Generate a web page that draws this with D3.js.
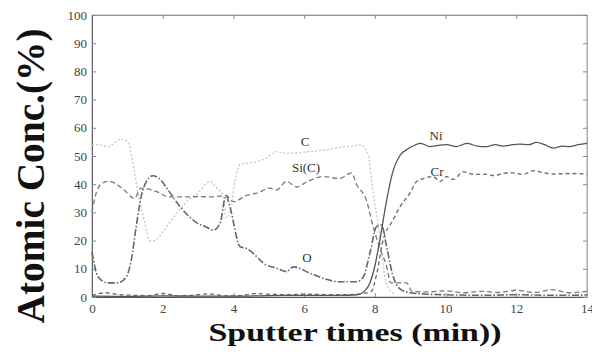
<!DOCTYPE html>
<html>
<head>
<meta charset="utf-8">
<script src="https://cdn.jsdelivr.net/npm/d3@7"></script>
<style>
  body { margin: 0; background: #fff; }
  svg { display: block; }
</style>
</head>
<body>
<svg id="chart" width="592" height="357"></svg>
<script>
// sputter time (min) and atomic concentration (%)
const cTime = [0, 0.17, 0.45, 0.82, 1.02, 1.15, 1.3, 1.5, 1.63, 1.77, 2.0, 2.23, 2.7, 3.0, 3.34, 3.53, 3.7, 3.8, 3.9, 4.09, 4.19, 4.4, 4.66, 4.9, 5.22, 5.5, 5.7, 6.1, 6.5, 6.8, 7.1, 7.4, 7.58, 7.8, 7.95, 8.1, 8.2, 8.3, 8.45, 8.6];
const cVal  = [54, 54, 53.3, 56, 55, 48, 37, 26, 20, 20, 23, 27, 34, 37, 41, 38.6, 36, 28, 30, 44, 47, 47.5, 48, 49, 51.5, 51, 51, 51.5, 52, 52.5, 53.3, 53.5, 54, 51, 37, 25, 15, 6, 2, 1];

const siTime = [0, 0.1, 0.25, 0.45, 0.64, 0.9, 1.2, 1.38, 1.68, 1.9, 2.15, 2.7, 3.05, 3.4, 3.79, 4.0, 4.37, 4.7, 5.03, 5.22, 5.5, 5.79, 6.1, 6.54, 7.0, 7.34, 7.48, 7.77, 7.95, 8.15, 8.33, 8.45, 8.9, 9.05, 9.5, 10, 10.5, 11, 11.5, 12, 12.5, 13, 13.5, 14];
const siVal  = [30, 36, 40, 41, 40.4, 38, 35, 38.6, 38, 37, 35.5, 35.5, 35.6, 35.5, 36, 33.8, 36, 37, 38.6, 38, 41, 39, 41, 42.7, 42, 44, 40, 34, 25, 17, 11, 5, 5, 2, 1.8, 2.2, 1.5, 2, 1.6, 2.4, 1.6, 2.6, 1.5, 2];

const oTime = [0, 0.17, 0.45, 0.73, 0.97, 1.11, 1.25, 1.39, 1.54, 1.72, 1.9, 2.15, 2.43, 2.71, 3.0, 3.2, 3.43, 3.62, 3.79, 3.9, 4.19, 4.37, 4.66, 4.85, 5.22, 5.5, 5.7, 6.17, 6.54, 7.0, 7.48, 7.67, 7.86, 8.05, 8.19, 8.33, 8.5, 8.7, 9.0, 9.5, 10, 11, 12, 13, 14];
const oVal  = [16, 7.2, 5, 5, 7.2, 13, 25, 35.6, 41, 43, 42, 38, 33, 29, 26, 25, 23.7, 26, 36, 32, 17.8, 17.2, 14.3, 12, 10.2, 9, 10.7, 8.4, 6.6, 5.4, 5.4, 7, 15.6, 25, 25.5, 18, 8, 3, 1.5, 1, 0.8, 0.6, 0.8, 0.6, 0.7];

const niTime = [0, 1, 2, 3, 4, 5, 6, 7, 7.5, 7.7, 7.86, 8.0, 8.14, 8.3, 8.5, 8.7, 9.0, 9.3, 9.56, 9.8, 10.03, 10.3, 10.6, 10.9, 11.16, 11.4, 11.63, 11.9, 12.1, 12.35, 12.57, 12.8, 13.05, 13.3, 13.5, 13.75, 14];
const niVal  = [0.3, 0.2, 0.4, 0.3, 0.3, 0.5, 0.6, 0.6, 0.8, 2, 5, 11, 20, 32, 44, 50, 53, 54.5, 53.3, 53.8, 54, 53.3, 54.5, 53.5, 53.3, 54, 53.5, 54, 54.2, 54, 54.8, 54, 52.8, 53.5, 53.3, 54, 54.5];

const crTime = [0, 0.4, 0.8, 1.2, 1.6, 2.0, 2.4, 2.8, 3.3, 3.8, 4.2, 4.6, 5.0, 5.5, 6, 6.5, 7, 7.5, 7.9, 8.05, 8.23, 8.5, 8.71, 9.0, 9.18, 9.37, 9.65, 9.85, 10.03, 10.22, 10.5, 10.8, 11.16, 11.4, 11.63, 11.9, 12.2, 12.48, 12.8, 13.05, 13.5, 14];
const crVal  = [0.5, 1.5, 0.8, 0.6, 0.5, 1.3, 0.5, 0.6, 1.1, 0.4, 0.5, 1.2, 1.0, 0.8, 1.0, 0.9, 0.8, 1.0, 2, 8, 20, 27, 32, 37, 41, 42, 42.7, 41, 42.7, 41.7, 44.4, 43.5, 43.5, 43, 43.9, 44, 43.5, 44.8, 44, 43.6, 43.8, 43.6];

const xTicks = [0, 2, 4, 6, 8, 10, 12, 14];
const yTicks = [0, 10, 20, 30, 40, 50, 60, 70, 80, 90, 100];

const serif = '"Liberation Serif", "Times New Roman", Times, serif';

const series = [
  {name: 'C',     t: cTime,  v: cVal,  color: '#c4c4c4', dash: '2,2',       width: 1.3, label: [305, 146]},
  {name: 'Si(C)', t: siTime, v: siVal, color: '#7a7a7a', dash: '5,3',       width: 1.3, label: [306, 172]},
  {name: 'O',     t: oTime,  v: oVal,  color: '#666',    dash: '7,2,1.5,2', width: 1.6, label: [307, 262]},
  {name: 'Ni',    t: niTime, v: niVal, color: '#555',    dash: null,        width: 1.3, label: [436, 140]},
  {name: 'Cr',    t: crTime, v: crVal, color: '#666',    dash: '4,3',       width: 1.3, label: [437, 176]}
];

const svg = d3.select('#chart');
const margin = {top: 15, right: 5, bottom: 60, left: 92};
const width = 592, height = 357;

const x = d3.scaleLinear().domain([0, 14]).range([margin.left, width - margin.right]);
const y = d3.scaleLinear().domain([0, 100]).range([height - margin.bottom, margin.top]);

// frame
svg.append('rect')
  .attr('x', x(0)).attr('y', y(100))
  .attr('width', x(14) - x(0)).attr('height', y(0) - y(100))
  .attr('fill', 'none').attr('stroke', '#aaa').attr('stroke-width', 1);

// inward ticks on all four sides
const tickLen = 4;
svg.append('g')
  .attr('transform', `translate(0,${y(0)})`)
  .call(d3.axisBottom(x).tickValues(xTicks).tickSize(-tickLen).tickPadding(7))
  .call(g => g.select('.domain').attr('stroke', '#555'));
svg.append('g')
  .attr('transform', `translate(0,${y(100)})`)
  .call(d3.axisTop(x).tickValues(xTicks).tickSize(-tickLen).tickFormat(''))
  .call(g => g.select('.domain').attr('stroke', '#999'));
svg.append('g')
  .attr('transform', `translate(${x(0)},0)`)
  .call(d3.axisLeft(y).tickValues(yTicks).tickSize(-tickLen).tickPadding(5))
  .call(g => g.select('.domain').attr('stroke', '#666'));
svg.append('g')
  .attr('transform', `translate(${x(14)},0)`)
  .call(d3.axisRight(y).tickValues(yTicks).tickSize(-tickLen).tickFormat(''))
  .call(g => g.select('.domain').attr('stroke', '#aaa'));

svg.selectAll('g').attr('font-family', serif);
svg.selectAll('.tick line').attr('stroke', '#888');
svg.selectAll('.tick text')
  .attr('fill', '#444')
  .attr('font-family', serif)
  .attr('font-size', 13);

// profiles
const line = d3.line()
  .x(d => x(d[0]))
  .y(d => y(d[1]))
  .curve(d3.curveMonotoneX);

series.forEach(s => {
  const pts = s.t.map((t, i) => [t, s.v[i]]);
  svg.append('path')
    .datum(pts)
    .attr('d', line)
    .attr('fill', 'none')
    .attr('stroke', s.color)
    .attr('stroke-width', s.width)
    .attr('stroke-dasharray', s.dash);
  svg.append('text')
    .attr('x', s.label[0]).attr('y', s.label[1])
    .attr('text-anchor', 'middle')
    .attr('fill', '#333')
    .attr('font-family', serif)
    .attr('font-size', 13)
    .text(s.name);
});

// the scan is cropped across the top edge
svg.append('rect').attr('x', 0).attr('y', 0).attr('width', width).attr('height', 12).attr('fill', '#fff');

// axis titles
svg.append('text')
  .attr('x', 355).attr('y', 341)
  .attr('text-anchor', 'middle')
  .attr('font-family', serif)
  .attr('font-weight', 'bold')
  .attr('fill', '#111')
  .attr('textLength', 293).attr('lengthAdjust', 'spacingAndGlyphs')
  .attr('font-size', 26)
  .text('Sputter times (min))');

svg.append('text')
  .attr('transform', 'translate(44,176) rotate(-90)')
  .attr('text-anchor', 'middle')
  .attr('font-family', serif)
  .attr('font-weight', 'bold')
  .attr('fill', '#111')
  .attr('textLength', 295).attr('lengthAdjust', 'spacingAndGlyphs')
  .attr('font-size', 40)
  .text('Atomic Conc.(%)');
</script>
</body>
</html>
